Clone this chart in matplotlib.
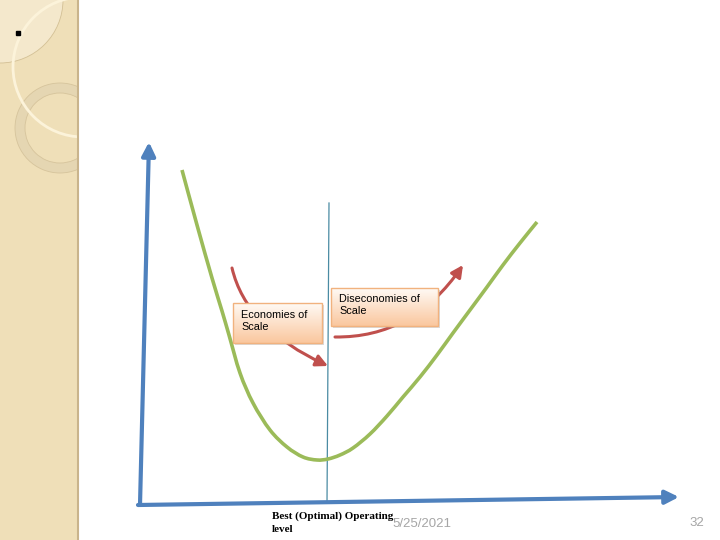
import numpy as np
import matplotlib
matplotlib.use('Agg')
from matplotlib import pyplot as plt
from matplotlib.patches import Rectangle, Circle, Wedge, FancyArrowPatch, PathPatch
from matplotlib.path import Path

# cost curve (pixel space, y grows downward)
curve_x = [182, 197, 212, 222, 229, 240, 253, 270, 287, 303, 317, 328, 340, 353,
           370, 387, 403, 420, 437, 453, 470, 487, 503, 520, 537]
curve_y = [170, 225, 278, 311, 335, 373, 403, 430, 447, 457, 460, 459, 455, 448,
           434, 416, 397, 377, 355, 333, 310, 287, 265, 243, 222]

optimal_x = [329, 327]
optimal_y = [203, 503]

box_labels = ['Economies of\nScale', 'Diseconomies of\nScale']
box_rects = [(233, 303, 322, 343), (331, 288, 438, 326)]
box_text_pos = [(241, 321), (339, 305)]

# curved arrows: start, control, end
econ_arrow = [(232, 268), (246, 328), (328, 366)]
dis_arrow = [(335, 337), (413, 338), (463, 265)]

footer_label = 'Best (Optimal) Operating\nlevel'
date_label = '5/25/2021'
page_label = '32'

BLUE = '#4F81BD'
GREEN = '#9BBB59'
RED = '#C0504D'


def smooth_path(xs, ys):
    # pass a smooth bezier through the read points (catmull-rom style handles)
    pts = np.column_stack([xs, ys]).astype(float)
    verts = [pts[0]]
    codes = [Path.MOVETO]
    for i in range(len(pts) - 1):
        p0 = pts[i - 1] if i > 0 else pts[i]
        p1, p2 = pts[i], pts[i + 1]
        p3 = pts[i + 2] if i + 2 < len(pts) else pts[i + 1]
        verts += [p1 + (p2 - p0) / 6, p2 - (p3 - p1) / 6, p2]
        codes += [Path.CURVE4] * 3
    return Path(verts, codes)


fig = plt.figure(figsize=(7.2, 5.4), dpi=100)
ax = fig.add_axes([0, 0, 1, 1])

# left decorative strip
panel = Rectangle((0, 0), 78, 540, facecolor='#EFDFB8', edgecolor='none', zorder=1)
ax.add_patch(panel)
ax.plot([78, 78], [0, 540], color='#C9B48C', lw=1.5, zorder=3)
quarter = Circle((0, 0), 63, facecolor='#F4E8CC', edgecolor='#D3C095', lw=0.6, zorder=2)
ax.add_patch(quarter)
quarter.set_clip_path(panel)
ring = Wedge((60, 128), 45, 0, 360, width=10, facecolor='#E5D6B2', edgecolor='#D6C49C',
             lw=0.6, zorder=2)
ax.add_patch(ring)
ring.set_clip_path(panel)
arc = Circle((83, 67), 70, facecolor='none', edgecolor='#FCF3DA', lw=2.0, zorder=2)
ax.add_patch(arc)
arc.set_clip_path(panel)
ax.plot([18], [33], marker='s', color='black', ms=2.3, zorder=4)

# axes of the diagram
ax.add_patch(FancyArrowPatch((140, 505), (149, 142), arrowstyle='-|>,head_length=0.8,head_width=0.4',
                             mutation_scale=10, color=BLUE, lw=3, shrinkA=0, shrinkB=0, zorder=5))
ax.add_patch(FancyArrowPatch((138, 505), (679, 497), arrowstyle='-|>,head_length=0.8,head_width=0.4',
                             mutation_scale=10, color=BLUE, lw=3, shrinkA=0, shrinkB=0, zorder=5))

# optimal level line
ax.plot(optimal_x, optimal_y, color='#4A8BA3', lw=0.9, zorder=4)

# long-run average cost curve
ax.add_patch(PathPatch(smooth_path(curve_x, curve_y), facecolor='none', edgecolor=GREEN,
                       lw=2.6, capstyle='butt', zorder=6))

# red curved arrows (behind the boxes)
for pts in (econ_arrow, dis_arrow):
    p = Path(pts, [Path.MOVETO, Path.CURVE3, Path.CURVE3])
    ax.add_patch(FancyArrowPatch(path=p, arrowstyle='-|>,head_length=0.7,head_width=0.35',
                                 mutation_scale=10, color=RED, lw=2.2, zorder=7))

# label boxes with a white-to-peach gradient
grad = np.linspace(0, 1, 64)[:, None, None]
top = np.array([1.0, 0.98, 0.96])
bot = np.array([0.98, 0.78, 0.62])
grad_img = top * (1 - grad) + bot * grad
for (x0, y0, x1, y1), label, (tx, ty) in zip(box_rects, box_labels, box_text_pos):
    ax.add_patch(Rectangle((x0 + 2, y0 + 2), x1 - x0, y1 - y0, facecolor='#999999',
                           alpha=0.35, edgecolor='none', zorder=8))
    ax.imshow(grad_img, extent=(x0, x1, y1, y0), origin='upper', aspect='auto', zorder=9)
    ax.add_patch(Rectangle((x0, y0), x1 - x0, y1 - y0, facecolor='none',
                           edgecolor='#F1B27E', lw=1.0, zorder=10))
    ax.text(tx, ty, label, fontsize=7.8, family=['Liberation Sans', 'DejaVu Sans'],
            va='center', ha='left', linespacing=1.3, zorder=11)

# footer texts
ax.text(272, 523, footer_label, fontsize=8, fontweight='bold',
        family=['Liberation Serif', 'DejaVu Serif'], va='center', ha='left',
        linespacing=1.6, zorder=11)
ax.text(392, 524, date_label, fontsize=9.5, color='#A6A6A6',
        family=['Liberation Sans'], va='center', ha='left', zorder=10)
ax.text(704, 523, page_label, fontsize=9.5, color='#A6A6A6',
        family=['Liberation Sans'], va='center', ha='right', zorder=10)

ax.set_xlim(0, 720)
ax.set_ylim(540, 0)
ax.axis('off')

fig.savefig('out.png', dpi=100)
